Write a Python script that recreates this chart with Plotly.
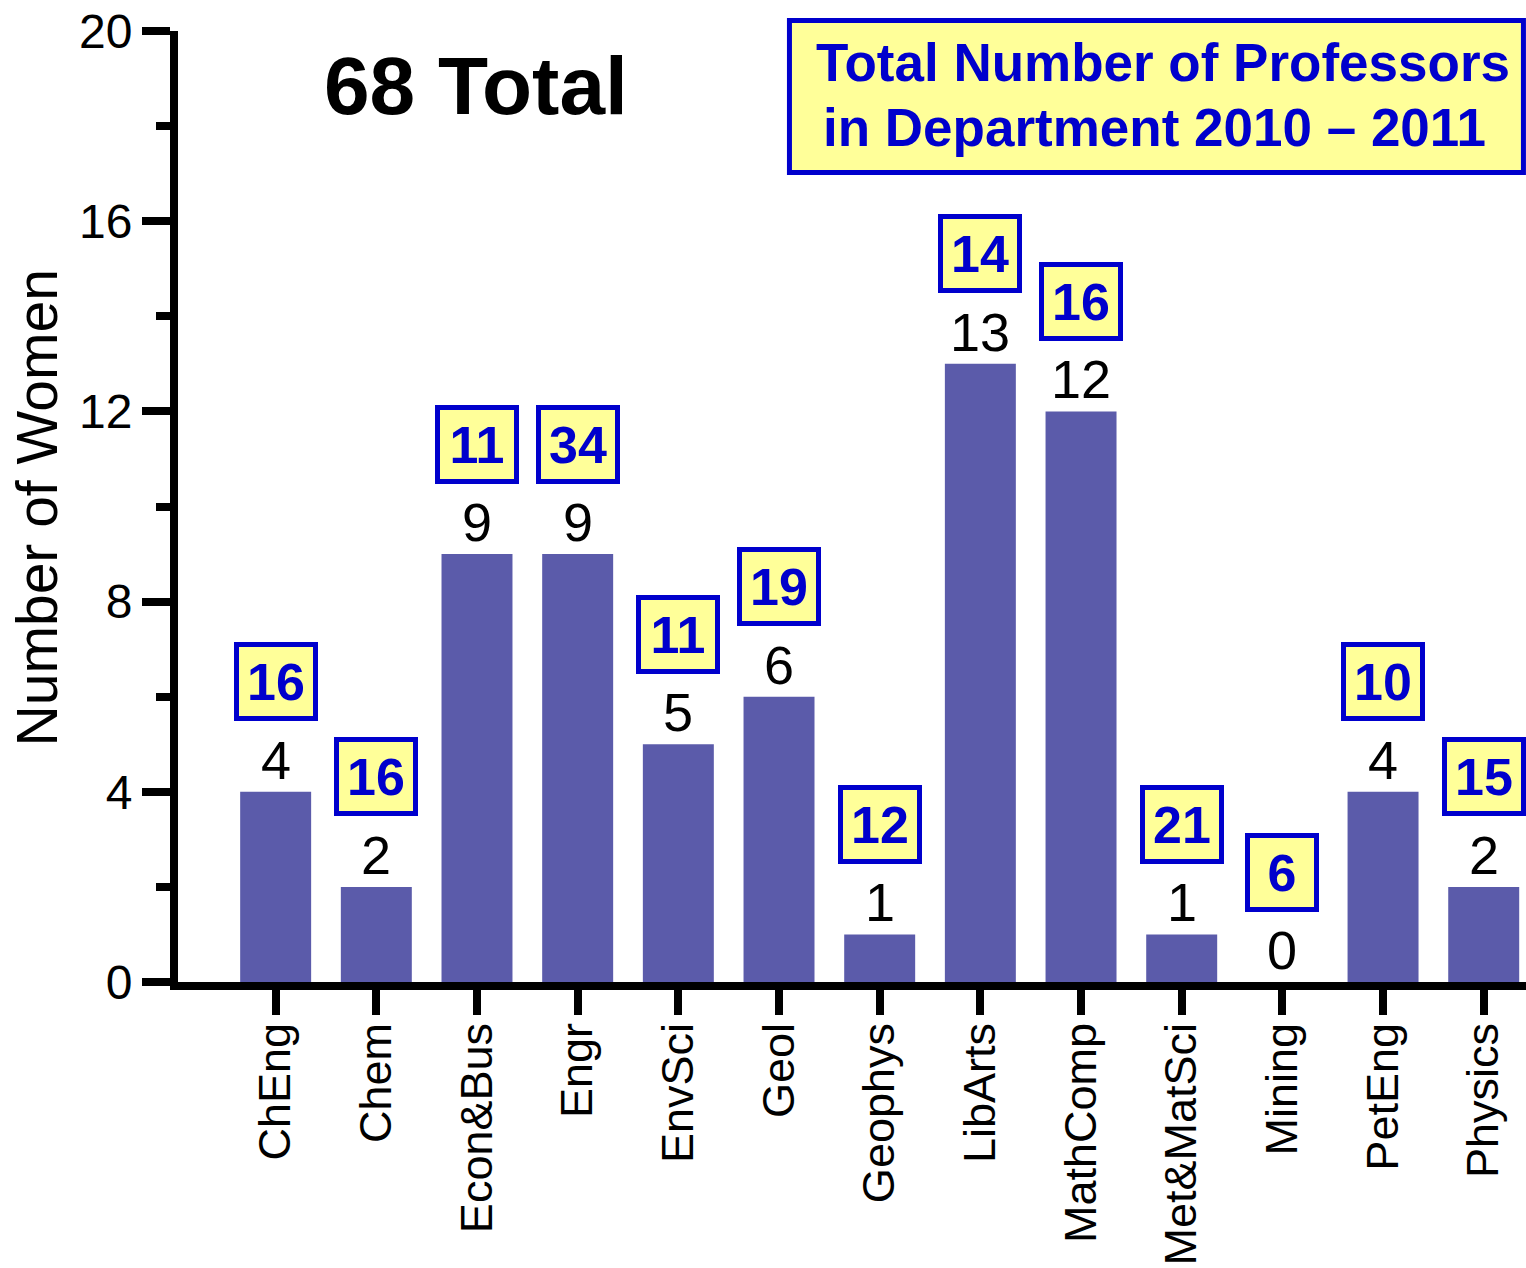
import plotly.graph_objects as go

categories = ["ChEng", "Chem", "Econ&Bus", "Engr", "EnvSci", "Geol", "Geophys",
              "LibArts", "MathComp", "Met&MatSci", "Mining", "PetEng", "Physics"]
women = [4, 2, 9, 9, 5, 6, 1, 13, 12, 1, 0, 4, 2]
professors = [16, 16, 11, 34, 11, 19, 12, 14, 16, 21, 6, 10, 15]
y_ticks = [0, 4, 8, 12, 16, 20]
total_label = "68 Total"
box_line1 = "Total Number of Professors"
box_line2 = "in Department 2010 – 2011"
y_title = "Number of Women"

FONT = "Liberation Sans, Arial, Helvetica, sans-serif"
BAR = "#5B5BAA"
BLUE = "#0000CC"
YELLOW = "#FFFF99"

fig = go.Figure()
fig.add_trace(go.Bar(
    x=categories, y=women, width=0.705,
    marker=dict(color=BAR, line=dict(width=0)),
    hoverinfo="x+y",
))

annotations = []
for c, w, p in zip(categories, women, professors):
    annotations.append(dict(
        x=c, y=w, xref="x", yref="y", text=str(w), showarrow=False,
        yanchor="middle", yshift=32,
        font=dict(family=FONT, size=54, color="black"),
    ))
    annotations.append(dict(
        x=c, y=w, xref="x", yref="y", text="<b>%s</b>" % p, showarrow=False,
        yanchor="middle", yshift=110,
        font=dict(family=FONT, size=52, color=BLUE),
        bgcolor=YELLOW, bordercolor=BLUE, borderwidth=5, borderpad=0,
        width=74 if len(str(p)) > 1 else 64, height=69,
    ))

annotations.append(dict(
    x=0.2211, y=0.9422, xref="paper", yref="paper", text="<b>%s</b>" % total_label,
    showarrow=False, xanchor="center", yanchor="middle",
    font=dict(family=FONT, size=82, color="black"),
))
annotations.append(dict(
    x=0.4715, y=0.9665, xref="paper", yref="paper", text="<b>%s</b>" % box_line1,
    showarrow=False, xanchor="left", yanchor="middle",
    font=dict(family=FONT, size=53, color=BLUE),
))
annotations.append(dict(
    x=0.4767, y=0.8982, xref="paper", yref="paper", text="<b>%s</b>" % box_line2,
    showarrow=False, xanchor="left", yanchor="middle",
    font=dict(family=FONT, size=53, color=BLUE),
))
annotations.append(dict(
    x=-0.1039, y=0.499, xref="paper", yref="paper", text=y_title,
    showarrow=False, textangle=-90, xanchor="center", yanchor="middle",
    font=dict(family=FONT, size=57, color="black"),
))

shapes = [dict(
    type="rect", xref="paper", yref="paper",
    x0=0.4536, x1=0.9981, y0=0.8512, y1=1.0110,
    fillcolor=YELLOW, line=dict(color=BLUE, width=5), layer="below",
)]

fig.update_layout(
    width=1526, height=1268,
    margin=dict(l=178, r=0, t=31, b=286, pad=0, autoexpand=False),
    paper_bgcolor="white", plot_bgcolor="white",
    showlegend=False,
    annotations=annotations,
    shapes=shapes,
    xaxis=dict(
        type="category", range=[-0.97, 12.42], automargin=False,
        showline=True, linecolor="black", linewidth=8,
        ticks="outside", ticklen=25, tickwidth=8, tickcolor="black",
        ticklabelstandoff=-10,
        tickangle=-90, tickfont=dict(family=FONT, size=45, color="black"),
        showgrid=False, zeroline=False,
    ),
    yaxis=dict(
        range=[0, 20], tickvals=y_ticks, automargin=False,
        showline=True, linecolor="black", linewidth=8,
        ticks="outside", ticklen=28, tickwidth=8, tickcolor="black",
        tickfont=dict(family=FONT, size=48, color="black"),
        minor=dict(dtick=2, tick0=0, ticks="outside", ticklen=14, tickwidth=8,
                   tickcolor="black", showgrid=False),
        showgrid=False, zeroline=False,
    ),
)

fig.write_html(
    "out.html",
    config={"displayModeBar": False},
    post_script="document.body.style.margin='0px';document.body.style.overflow='hidden';",
)
